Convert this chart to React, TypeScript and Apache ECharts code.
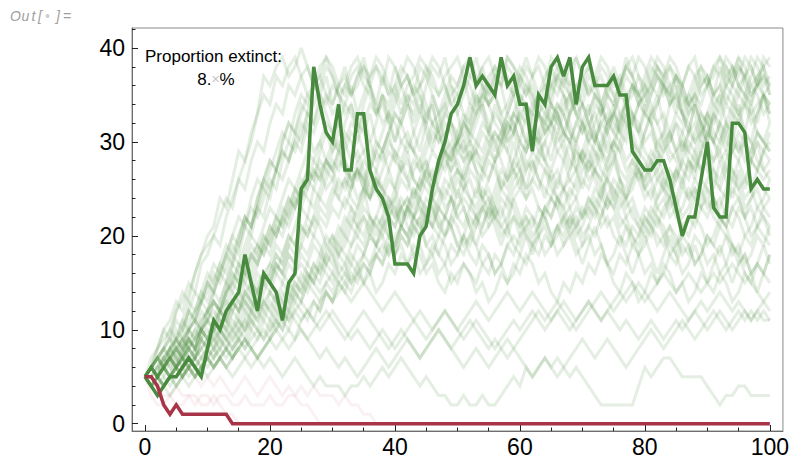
import React, { useEffect, useRef } from "react";
import * as echarts from "echarts";

const FONT = "'Liberation Sans', Arial, Helvetica, sans-serif";

const xMajorTicks = [0, 20, 40, 60, 80, 100];
const xMinorTicks = [5, 10, 15, 25, 30, 35, 45, 50, 55, 65, 70, 75, 85, 90, 95];
const yMajorTicks = [0, 10, 20, 30, 40];
const yMinorTicks = [2, 4, 6, 8, 12, 14, 16, 18, 22, 24, 26, 28, 32, 34, 36, 38, 42];

const proportionExtinctLabel = "8.";

// highlighted surviving run
const highlightedSurvivor = [
  5, 4, 3, 4, 5, 5, 6, 7, 6, 5, 8,
  11, 10, 12, 13, 14, 18, 15, 12, 16, 15,
  14, 11, 15, 16, 25, 26, 38, 34, 31, 30,
  34, 27, 27, 33, 33, 27, 25, 24, 22, 17,
  17, 17, 16, 20, 21, 25, 28, 30, 33, 34,
  36, 39, 36, 37, 36, 35, 39, 36, 37, 34,
  34, 29, 35, 34, 38, 39, 37, 39, 34, 38,
  39, 36, 36, 36, 37, 35, 35, 29, 28, 27,
  27, 28, 28, 26, 23, 20, 22, 22, 26, 30,
  23, 22, 22, 32, 32, 31, 25, 26, 25, 25,
];

// highlighted extinct run
const highlightedExtinct = [
  5, 5, 4, 2, 1, 2, 1, 1, 1, 1, 1,
  1, 1, 1, 0, 0, 0, 0, 0, 0, 0,
  0, 0, 0, 0, 0, 0, 0, 0, 0, 0,
  0, 0, 0, 0, 0, 0, 0, 0, 0, 0,
  0, 0, 0, 0, 0, 0, 0, 0, 0, 0,
  0, 0, 0, 0, 0, 0, 0, 0, 0, 0,
  0, 0, 0, 0, 0, 0, 0, 0, 0, 0,
  0, 0, 0, 0, 0, 0, 0, 0, 0, 0,
  0, 0, 0, 0, 0, 0, 0, 0, 0, 0,
  0, 0, 0, 0, 0, 0, 0, 0, 0, 0,
];

// other extinct runs (faint)
const extinctF1 = [
  5, 3, 2, 2, 3, 2, 2, 3, 3, 2, 2,
  3, 2, 1, 1, 0, 0, 0, 0, 0, 0,
  0, 0, 0, 0, 0, 0, 0, 0, 0, 0,
  0, 0, 0, 0, 0, 0, 0, 0, 0, 0,
  0, 0, 0, 0, 0, 0, 0, 0, 0, 0,
  0, 0, 0, 0, 0, 0, 0, 0, 0, 0,
  0, 0, 0, 0, 0, 0, 0, 0, 0, 0,
  0, 0, 0, 0, 0, 0, 0, 0, 0, 0,
  0, 0, 0, 0, 0, 0, 0, 0, 0, 0,
  0, 0, 0, 0, 0, 0, 0, 0, 0, 0,
];
const extinctF2 = [
  5, 4, 4, 3, 3, 4, 3, 3, 2, 3, 3,
  2, 3, 3, 2, 2, 3, 2, 2, 2, 3,
  2, 2, 3, 3, 2, 2, 1, 0, 0, 0,
  0, 0, 0, 0, 0, 0, 0, 0, 0, 0,
  0, 0, 0, 0, 0, 0, 0, 0, 0, 0,
  0, 0, 0, 0, 0, 0, 0, 0, 0, 0,
  0, 0, 0, 0, 0, 0, 0, 0, 0, 0,
  0, 0, 0, 0, 0, 0, 0, 0, 0, 0,
  0, 0, 0, 0, 0, 0, 0, 0, 0, 0,
  0, 0, 0, 0, 0, 0, 0, 0, 0, 0,
];
const extinctF3 = [
  5, 6, 5, 6, 7, 6, 5, 6, 5, 4, 5,
  4, 5, 4, 3, 4, 5, 4, 3, 4, 5,
  4, 3, 4, 3, 4, 3, 4, 3, 3, 3,
  2, 3, 2, 2, 1, 1, 0, 0, 0, 0,
  0, 0, 0, 0, 0, 0, 0, 0, 0, 0,
  0, 0, 0, 0, 0, 0, 0, 0, 0, 0,
  0, 0, 0, 0, 0, 0, 0, 0, 0, 0,
  0, 0, 0, 0, 0, 0, 0, 0, 0, 0,
  0, 0, 0, 0, 0, 0, 0, 0, 0, 0,
  0, 0, 0, 0, 0, 0, 0, 0, 0, 0,
];

// surviving runs (faint)
const runA1 = [
  5, 6, 8, 10, 9, 12, 14, 13, 16, 18, 20,
  21, 24, 23, 26, 29, 28, 31, 33, 35, 34,
  37, 36, 38, 39, 37, 35, 36, 38, 39, 37,
  35, 34, 36, 33, 35, 37, 38, 36, 39, 38,
  36, 34, 33, 35, 32, 34, 31, 33, 35, 36,
  38, 37, 39, 36, 34, 35, 33, 31, 32, 30,
  33, 31, 29, 30, 28, 31, 29, 27, 30, 32,
  31, 34, 33, 35, 37, 36, 38, 39, 37, 35,
  36, 38, 37, 39, 38, 36, 34, 35, 37, 36,
  38, 39, 37, 38, 36, 35, 37, 39, 38, 36,
];
const runA2 = [
  5, 7, 8, 10, 11, 13, 12, 14, 16, 18, 19,
  20, 22, 24, 23, 26, 28, 30, 33, 37, 36,
  38, 39, 37, 38, 40, 38, 36, 37, 35, 33,
  34, 36, 35, 37, 38, 36, 34, 32, 33, 35,
  37, 39, 38, 36, 37, 35, 33, 34, 32, 30,
  31, 33, 35, 34, 36, 38, 37, 39, 38, 36,
  35, 37, 38, 36, 39, 38, 36, 35, 33, 34,
  32, 30, 33, 35, 34, 36, 38, 37, 35, 36,
  34, 32, 33, 31, 29, 31, 33, 35, 34, 36,
  38, 37, 39, 38, 36, 37, 35, 36, 38, 39,
];
const runA3 = [
  5, 6, 5, 7, 8, 9, 8, 10, 11, 13, 12,
  14, 16, 15, 17, 19, 21, 20, 23, 25, 24,
  27, 29, 28, 31, 30, 33, 32, 34, 31, 29,
  30, 28, 26, 27, 25, 28, 30, 29, 31, 33,
  32, 34, 36, 35, 33, 34, 31, 29, 30, 27,
  25, 26, 24, 27, 29, 28, 30, 32, 31, 34,
  36, 35, 33, 34, 36, 38, 37, 35, 33, 32,
  30, 31, 29, 27, 28, 26, 24, 25, 27, 26,
  28, 30, 29, 31, 33, 32, 34, 33, 31, 32,
  30, 28, 29, 27, 25, 26, 28, 30, 29, 31,
];
const runA4 = [
  5, 6, 5, 6, 7, 6, 5, 6, 7, 8, 7,
  8, 9, 8, 9, 10, 11, 13, 12, 14, 16,
  18, 17, 19, 21, 23, 22, 25, 24, 26, 28,
  27, 29, 31, 30, 32, 34, 33, 35, 34, 36,
  38, 37, 35, 36, 34, 32, 33, 35, 37, 36,
  38, 39, 37, 36, 34, 35, 33, 34, 36, 38,
  37, 35, 33, 31, 32, 34, 33, 35, 36, 34,
  32, 33, 31, 29, 30, 32, 34, 36, 35, 37,
  39, 38, 36, 34, 35, 33, 31, 32, 30, 33,
  35, 34, 36, 38, 37, 39, 38, 36, 37, 35,
];
const runA5 = [
  5, 4, 5, 6, 5, 4, 5, 6, 7, 6, 7,
  6, 7, 8, 7, 8, 9, 8, 7, 8, 9,
  11, 10, 12, 14, 13, 15, 17, 16, 18, 20,
  19, 21, 23, 22, 24, 26, 25, 27, 29, 28,
  30, 29, 31, 33, 32, 30, 31, 29, 27, 28,
  26, 28, 30, 29, 31, 30, 28, 26, 27, 25,
  27, 29, 28, 30, 32, 31, 33, 31, 29, 28,
  26, 27, 25, 23, 24, 26, 25, 27, 26, 24,
  25, 23, 22, 24, 23, 21, 22, 24, 23, 25,
  24, 22, 21, 23, 22, 20, 21, 23, 22, 21,
];
const runA6 = [
  5, 6, 7, 6, 8, 10, 9, 11, 12, 14, 13,
  15, 17, 16, 18, 17, 19, 21, 23, 22, 25,
  27, 26, 28, 30, 29, 32, 31, 33, 35, 34,
  36, 35, 37, 38, 36, 35, 33, 34, 32, 34,
  36, 37, 35, 38, 37, 39, 38, 36, 34, 35,
  33, 32, 34, 36, 35, 37, 36, 38, 37, 35,
  34, 32, 30, 31, 33, 32, 34, 35, 33, 31,
  32, 30, 29, 31, 33, 32, 34, 33, 31, 29,
  28, 26, 27, 25, 24, 26, 28, 27, 29, 31,
  30, 32, 34, 33, 35, 34, 36, 35, 33, 34,
];
const runA7 = [
  5, 6, 5, 4, 5, 6, 7, 6, 7, 8, 9,
  8, 10, 9, 11, 10, 12, 11, 13, 12, 14,
  13, 15, 14, 16, 15, 17, 16, 18, 17, 19,
  18, 20, 19, 21, 20, 22, 21, 20, 22, 21,
  23, 22, 24, 26, 25, 24, 26, 28, 27, 29,
  28, 30, 29, 31, 30, 28, 29, 31, 33, 32,
  30, 31, 33, 32, 34, 33, 31, 30, 32, 34,
  33, 35, 34, 32, 33, 35, 37, 36, 34, 35,
  33, 34, 36, 35, 37, 36, 38, 37, 35, 36,
  34, 35, 37, 36, 38, 37, 35, 36, 37, 36,
];
const runA8 = [
  5, 6, 7, 8, 9, 11, 10, 12, 14, 13, 15,
  17, 16, 18, 20, 22, 21, 24, 26, 25, 27,
  29, 31, 30, 33, 35, 34, 36, 35, 33, 31,
  32, 30, 28, 29, 27, 25, 26, 24, 22, 23,
  21, 23, 22, 24, 26, 25, 27, 29, 28, 30,
  32, 31, 33, 35, 34, 36, 38, 37, 35, 36,
  38, 37, 39, 38, 36, 37, 35, 34, 36, 37,
  35, 36, 34, 32, 33, 31, 30, 32, 34, 33,
  35, 37, 36, 38, 37, 35, 33, 34, 32, 33,
  31, 30, 32, 34, 33, 35, 34, 36, 35, 33,
];
const runA9 = [
  5, 6, 6, 7, 8, 9, 11, 10, 12, 13, 15,
  14, 16, 18, 17, 20, 22, 21, 23, 26, 28,
  27, 30, 32, 31, 33, 35, 34, 36, 38, 37,
  35, 36, 38, 39, 37, 36, 38, 37, 35, 36,
  34, 36, 37, 39, 38, 36, 35, 37, 38, 39,
  37, 36, 34, 35, 37, 38, 36, 39, 38, 37,
  35, 36, 34, 33, 35, 37, 36, 38, 39, 37,
  38, 36, 37, 35, 34, 36, 38, 37, 39, 38,
  36, 35, 37, 38, 36, 34, 35, 37, 38, 36,
  37, 39, 38, 36, 35, 37, 38, 36, 39, 38,
];
const runA10 = [
  5, 5, 6, 7, 6, 8, 7, 9, 10, 9, 11,
  12, 11, 13, 15, 14, 16, 18, 17, 19, 21,
  20, 22, 24, 23, 25, 27, 26, 28, 27, 29,
  31, 30, 32, 31, 29, 30, 28, 29, 31, 33,
  32, 30, 29, 27, 28, 26, 27, 29, 28, 30,
  32, 31, 33, 34, 32, 30, 31, 29, 27, 28,
  30, 29, 31, 33, 32, 34, 33, 31, 30, 28,
  29, 27, 26, 28, 30, 29, 31, 33, 32, 30,
  31, 29, 28, 26, 27, 29, 31, 30, 32, 31,
  33, 32, 30, 29, 31, 30, 28, 27, 29, 30,
];
const runA11 = [
  5, 4, 5, 4, 5, 6, 5, 6, 5, 6, 7,
  6, 7, 8, 7, 9, 8, 10, 9, 11, 10,
  12, 11, 13, 15, 14, 16, 15, 17, 19, 18,
  20, 22, 21, 23, 25, 24, 26, 25, 27, 29,
  28, 30, 29, 31, 33, 32, 30, 31, 29, 30,
  32, 34, 33, 35, 34, 32, 31, 33, 32, 30,
  29, 31, 30, 28, 27, 29, 28, 26, 27, 29,
  31, 30, 32, 33, 31, 30, 28, 29, 27, 26,
  28, 27, 29, 30, 32, 31, 29, 28, 30, 29,
  27, 26, 28, 30, 29, 31, 30, 28, 27, 28,
];
const runA12 = [
  5, 6, 7, 8, 7, 9, 10, 12, 11, 13, 14,
  16, 15, 17, 19, 18, 21, 23, 22, 24, 26,
  25, 28, 30, 29, 31, 33, 32, 35, 34, 36,
  35, 33, 34, 32, 31, 33, 30, 29, 31, 28,
  27, 29, 26, 25, 27, 24, 23, 25, 24, 22,
  23, 21, 22, 24, 23, 25, 27, 26, 28, 27,
  29, 31, 30, 32, 31, 29, 30, 28, 27, 29,
  28, 30, 32, 31, 33, 35, 34, 36, 35, 33,
  32, 30, 31, 29, 28, 30, 29, 31, 33, 32,
  30, 29, 31, 33, 32, 34, 33, 31, 30, 32,
];
const runB1 = [
  5, 6, 5, 6, 7, 6, 8, 9, 8, 10, 9,
  11, 12, 11, 13, 14, 13, 15, 14, 16, 17,
  16, 18, 20, 19, 21, 20, 22, 24, 23, 25,
  24, 26, 25, 27, 26, 24, 25, 23, 22, 24,
  26, 25, 27, 28, 26, 27, 25, 23, 24, 22,
  21, 23, 22, 20, 21, 23, 25, 24, 26, 27,
  25, 26, 28, 27, 25, 24, 22, 23, 21, 22,
  24, 23, 25, 26, 24, 22, 21, 19, 20, 22,
  21, 23, 24, 22, 23, 25, 24, 26, 25, 23,
  24, 22, 21, 23, 24, 22, 20, 21, 23, 22,
];
const runB2 = [
  5, 4, 5, 6, 5, 6, 7, 8, 7, 9, 8,
  10, 9, 11, 10, 12, 13, 12, 14, 16, 15,
  17, 16, 18, 17, 19, 21, 20, 22, 21, 23,
  22, 24, 23, 21, 22, 20, 22, 24, 23, 25,
  27, 26, 28, 27, 29, 31, 30, 32, 31, 29,
  30, 28, 29, 27, 26, 28, 30, 29, 31, 33,
  32, 34, 33, 31, 32, 30, 31, 33, 35, 34,
  36, 35, 33, 34, 32, 31, 33, 32, 34, 36,
  35, 37, 36, 34, 35, 33, 32, 30, 31, 33,
  32, 34, 36, 35, 33, 34, 32, 33, 35, 34,
];
const runB3 = [
  5, 6, 7, 6, 8, 7, 9, 10, 9, 11, 12,
  11, 13, 15, 14, 16, 15, 17, 19, 18, 20,
  22, 21, 23, 25, 24, 26, 28, 27, 25, 26,
  24, 23, 25, 27, 26, 28, 27, 25, 24, 22,
  23, 21, 20, 22, 19, 18, 20, 19, 17, 18,
  20, 19, 21, 23, 22, 24, 26, 25, 27, 26,
  28, 27, 29, 28, 26, 27, 25, 24, 26, 28,
  27, 29, 28, 30, 29, 27, 26, 28, 27, 25,
  26, 24, 25, 27, 26, 28, 30, 29, 27, 28,
  26, 25, 27, 29, 28, 26, 25, 27, 26, 27,
];
const runB4 = [
  5, 6, 5, 6, 5, 7, 6, 8, 7, 9, 10,
  9, 11, 10, 12, 13, 12, 14, 13, 15, 16,
  18, 17, 19, 18, 20, 22, 21, 23, 22, 24,
  26, 25, 27, 26, 28, 27, 25, 24, 26, 25,
  23, 24, 22, 21, 23, 22, 24, 26, 25, 27,
  26, 24, 23, 25, 24, 22, 21, 20, 22, 21,
  23, 22, 20, 21, 19, 20, 22, 21, 23, 22,
  24, 23, 21, 22, 20, 19, 21, 20, 18, 19,
  21, 20, 19, 21, 20, 18, 19, 17, 18, 20,
  19, 18, 20, 19, 17, 18, 16, 17, 19, 17,
];
const runB5 = [
  5, 6, 7, 8, 10, 9, 11, 13, 12, 14, 16,
  15, 17, 19, 18, 20, 22, 21, 24, 26, 25,
  27, 29, 28, 30, 32, 31, 29, 30, 28, 27,
  29, 28, 26, 27, 25, 24, 26, 25, 23, 24,
  22, 23, 21, 22, 24, 23, 21, 20, 22, 21,
  19, 20, 22, 21, 23, 22, 20, 21, 19, 18,
  20, 19, 21, 23, 22, 24, 23, 21, 22, 20,
  21, 23, 22, 24, 26, 25, 23, 24, 22, 21,
  23, 22, 20, 21, 19, 20, 22, 21, 23, 24,
  22, 21, 23, 25, 24, 22, 23, 21, 22, 20,
];
const runB6 = [
  5, 5, 6, 5, 7, 8, 7, 9, 8, 10, 11,
  13, 12, 14, 16, 15, 17, 19, 18, 20, 19,
  21, 23, 22, 24, 26, 25, 27, 26, 28, 30,
  29, 31, 30, 28, 29, 27, 29, 31, 33, 32,
  30, 31, 29, 28, 30, 32, 31, 33, 32, 30,
  28, 29, 27, 26, 28, 27, 25, 26, 28, 30,
  29, 31, 33, 32, 34, 33, 31, 30, 28, 29,
  27, 28, 30, 32, 31, 33, 32, 30, 29, 31,
  33, 32, 30, 28, 29, 27, 26, 28, 27, 29,
  28, 30, 32, 31, 29, 30, 28, 27, 29, 28,
];
const runB7 = [
  5, 6, 5, 7, 6, 8, 9, 8, 10, 12, 11,
  13, 12, 14, 15, 17, 16, 18, 17, 19, 21,
  20, 22, 21, 23, 25, 24, 23, 25, 27, 26,
  28, 27, 26, 24, 25, 27, 29, 28, 30, 29,
  27, 28, 26, 25, 27, 29, 28, 30, 32, 31,
  29, 30, 28, 27, 29, 31, 30, 32, 31, 29,
  27, 28, 26, 25, 24, 26, 25, 27, 29, 28,
  30, 29, 27, 26, 28, 30, 32, 31, 29, 28,
  26, 27, 25, 24, 26, 28, 27, 29, 31, 30,
  28, 29, 27, 26, 28, 30, 29, 31, 30, 29,
];
const runB8 = [
  5, 4, 5, 4, 5, 6, 5, 6, 7, 6, 8,
  7, 8, 9, 8, 10, 9, 11, 10, 12, 11,
  13, 12, 14, 13, 15, 14, 16, 15, 17, 16,
  18, 17, 19, 20, 19, 21, 22, 21, 23, 22,
  24, 23, 25, 24, 22, 23, 21, 22, 24, 26,
  25, 27, 26, 24, 25, 23, 22, 24, 23, 21,
  22, 20, 21, 23, 22, 24, 23, 25, 24, 22,
  23, 25, 24, 26, 25, 23, 24, 22, 21, 23,
  22, 24, 26, 25, 27, 26, 24, 25, 23, 22,
  24, 23, 25, 27, 26, 24, 25, 23, 24, 26,
];
const runC1 = [
  5, 4, 5, 6, 5, 6, 7, 6, 8, 7, 8,
  9, 8, 10, 9, 11, 10, 12, 11, 13, 12,
  14, 13, 15, 14, 16, 15, 17, 16, 18, 17,
  19, 18, 17, 19, 18, 20, 19, 21, 20, 18,
  19, 17, 18, 16, 17, 19, 18, 20, 21, 19,
  20, 18, 17, 19, 18, 16, 17, 15, 16, 18,
  17, 19, 20, 18, 19, 21, 20, 22, 21, 19,
  20, 18, 19, 17, 16, 18, 17, 19, 18, 16,
  17, 15, 16, 18, 17, 19, 18, 20, 19, 17,
  18, 16, 17, 19, 18, 16, 15, 17, 16, 18,
];
const runC2 = [
  5, 6, 5, 4, 5, 6, 5, 7, 6, 7, 8,
  7, 9, 8, 10, 9, 11, 10, 12, 11, 13,
  12, 14, 13, 15, 14, 16, 15, 17, 16, 15,
  17, 16, 18, 17, 15, 16, 14, 15, 17, 16,
  18, 17, 19, 18, 16, 17, 15, 14, 16, 15,
  17, 16, 14, 15, 13, 14, 16, 15, 17, 16,
  18, 17, 15, 16, 14, 13, 15, 14, 16, 15,
  17, 16, 18, 17, 15, 14, 16, 15, 13, 14,
  16, 15, 17, 16, 14, 15, 13, 14, 16, 15,
  14, 16, 15, 13, 14, 16, 15, 14, 13, 14,
];
const runC3 = [
  5, 6, 7, 6, 7, 8, 7, 9, 8, 10, 9,
  11, 10, 12, 14, 13, 15, 14, 16, 15, 17,
  19, 18, 20, 19, 21, 20, 22, 21, 19, 20,
  18, 19, 21, 20, 22, 21, 19, 18, 20, 19,
  21, 23, 22, 24, 23, 21, 20, 22, 21, 19,
  18, 20, 19, 17, 18, 16, 17, 19, 18, 20,
  22, 21, 23, 22, 20, 21, 19, 20, 18, 19,
  21, 20, 22, 24, 23, 21, 22, 20, 19, 21,
  20, 22, 21, 19, 18, 20, 19, 17, 18, 20,
  19, 21, 20, 18, 19, 17, 18, 20, 19, 21,
];
const runC4 = [
  5, 5, 4, 5, 4, 5, 6, 5, 6, 7, 6,
  7, 8, 7, 8, 9, 8, 9, 10, 9, 11,
  10, 12, 11, 13, 12, 11, 13, 12, 14, 13,
  15, 14, 16, 15, 17, 16, 18, 17, 19, 18,
  20, 19, 21, 20, 22, 21, 23, 22, 24, 23,
  25, 24, 22, 23, 21, 22, 24, 23, 25, 26,
  24, 25, 23, 22, 24, 23, 21, 22, 20, 21,
  23, 22, 24, 23, 25, 24, 22, 23, 21, 20,
  22, 21, 23, 24, 22, 23, 25, 24, 26, 25,
  23, 24, 22, 21, 23, 22, 24, 25, 23, 24,
];
const runC5 = [
  5, 6, 5, 6, 7, 6, 7, 8, 7, 9, 8,
  10, 11, 10, 12, 11, 13, 12, 14, 15, 14,
  16, 15, 17, 16, 18, 17, 19, 18, 20, 19,
  21, 20, 22, 21, 23, 22, 20, 22, 24, 23,
  21, 23, 25, 23, 21, 24, 22, 20, 22, 25,
  23, 21, 19, 21, 23, 21, 19, 21, 24, 22,
  20, 18, 20, 22, 20, 18, 19, 21, 19, 17,
  19, 21, 19, 17, 18, 20, 18, 16, 18, 20,
  18, 16, 18, 20, 18, 16, 17, 19, 17, 15,
  17, 19, 17, 15, 17, 18, 16, 14, 16, 18,
];
const runD1 = [
  5, 5, 6, 8, 9, 8, 10, 12, 11, 13, 15,
  14, 16, 18, 20, 19, 22, 21, 24, 26, 28,
  27, 30, 32, 31, 34, 33, 36, 35, 37, 34,
  36, 38, 35, 37, 39, 36, 34, 37, 35, 38,
  36, 37, 35, 33, 36, 38, 37, 39, 36, 35,
  37, 34, 36, 38, 35, 37, 36, 33, 35, 37,
  39, 37, 35, 36, 34, 37, 38, 36, 39, 37,
  35, 37, 34, 36, 38, 36, 39, 37, 35, 34,
  36, 38, 37, 35, 33, 36, 38, 39, 36, 37,
  35, 38, 36, 37, 39, 36, 34, 37, 38, 35,
];
const runD2 = [
  5, 6, 5, 7, 8, 7, 9, 10, 9, 11, 12,
  14, 13, 15, 17, 16, 18, 20, 19, 21, 23,
  22, 24, 26, 25, 27, 29, 28, 30, 32, 31,
  29, 32, 34, 31, 33, 30, 32, 35, 33, 30,
  32, 34, 31, 29, 32, 35, 33, 30, 28, 31,
  33, 30, 32, 34, 31, 29, 31, 33, 35, 32,
  30, 33, 31, 28, 30, 33, 35, 32, 30, 32,
  34, 31, 29, 32, 34, 31, 33, 30, 28, 31,
  33, 35, 32, 30, 32, 29, 31, 34, 32, 30,
  33, 31, 29, 32, 34, 31, 30, 33, 35, 32,
];
const runD3 = [
  5, 6, 5, 6, 7, 6, 8, 9, 8, 10, 11,
  10, 12, 13, 12, 14, 16, 15, 17, 19, 18,
  20, 22, 24, 23, 25, 27, 26, 29, 31, 30,
  32, 34, 33, 31, 34, 36, 33, 35, 32, 30,
  33, 35, 32, 34, 31, 29, 32, 34, 36, 33,
  30, 32, 35, 33, 31, 34, 32, 30, 33, 35,
  33, 31, 33, 36, 34, 32, 30, 33, 35, 32,
  30, 32, 34, 31, 29, 32, 35, 33, 31, 34,
  32, 29, 31, 34, 36, 33, 31, 34, 32, 30,
  33, 35, 32, 30, 33, 31, 34, 32, 35, 33,
];
const runD4 = [
  5, 6, 7, 6, 8, 9, 8, 10, 11, 10, 12,
  13, 12, 14, 16, 15, 17, 16, 18, 20, 19,
  21, 20, 22, 24, 23, 25, 27, 26, 28, 27,
  29, 27, 25, 28, 26, 24, 27, 29, 27, 25,
  28, 26, 24, 26, 28, 25, 27, 29, 26, 24,
  27, 29, 27, 24, 26, 28, 25, 27, 30, 27,
  25, 28, 26, 24, 27, 25, 28, 30, 27, 25,
  28, 26, 24, 27, 29, 26, 24, 26, 28, 25,
  27, 29, 26, 24, 27, 25, 28, 26, 29, 27,
  25, 28, 26, 24, 27, 25, 28, 30, 27, 26,
];
const runE1 = [
  5, 6, 5, 6, 5, 6, 7, 6, 5, 6, 7,
  6, 7, 6, 7, 8, 7, 6, 7, 8, 9,
  8, 9, 10, 9, 11, 12, 11, 13, 14, 13,
  15, 16, 15, 17, 18, 20, 19, 21, 22, 21,
  23, 24, 23, 25, 27, 26, 28, 27, 29, 30,
  29, 31, 30, 32, 31, 33, 32, 30, 31, 33,
  34, 33, 35, 34, 32, 33, 31, 30, 32, 31,
  33, 35, 34, 36, 35, 33, 34, 32, 31, 33,
  32, 34, 36, 35, 37, 36, 34, 35, 33, 32,
  34, 33, 35, 34, 36, 35, 33, 34, 35, 34,
];
const runE2 = [
  5, 4, 5, 6, 7, 6, 7, 9, 8, 10, 9,
  10, 12, 11, 13, 12, 14, 13, 15, 16, 15,
  17, 16, 18, 17, 19, 18, 20, 19, 17, 18,
  16, 17, 15, 16, 18, 17, 19, 20, 18, 19,
  21, 20, 22, 21, 19, 20, 18, 17, 19, 18,
  20, 22, 21, 23, 24, 22, 23, 21, 22, 20,
  21, 19, 18, 20, 19, 21, 22, 20, 21, 23,
  22, 24, 23, 21, 22, 20, 19, 21, 20, 22,
  21, 19, 20, 18, 19, 21, 20, 22, 21, 19,
  20, 22, 21, 19, 18, 20, 19, 21, 20, 19,
];
const runE3 = [
  5, 6, 5, 4, 5, 4, 5, 6, 5, 6, 7,
  6, 7, 8, 7, 8, 9, 8, 9, 10, 9,
  10, 11, 10, 12, 11, 12, 13, 12, 14, 13,
  14, 15, 14, 16, 17, 16, 18, 19, 18, 20,
  21, 20, 22, 23, 22, 24, 25, 24, 26, 27,
  26, 28, 29, 28, 30, 31, 30, 32, 33, 32,
  34, 33, 35, 34, 36, 35, 37, 36, 34, 35,
  37, 36, 38, 37, 35, 36, 34, 35, 37, 36,
  38, 37, 35, 36, 34, 33, 35, 34, 36, 37,
  35, 36, 38, 37, 39, 38, 36, 37, 35, 36,
];
const runE4 = [
  5, 6, 7, 8, 7, 9, 8, 10, 11, 10, 12,
  13, 12, 14, 15, 17, 16, 18, 19, 18, 20,
  22, 21, 23, 25, 24, 26, 25, 27, 28, 27,
  25, 26, 24, 23, 25, 22, 21, 22, 20, 19,
  21, 20, 18, 19, 17, 18, 16, 17, 15, 16,
  17, 16, 15, 17, 16, 18, 17, 19, 20, 19,
  21, 22, 21, 23, 24, 23, 25, 26, 25, 27,
  28, 27, 29, 28, 30, 29, 27, 28, 26, 27,
  29, 28, 30, 31, 29, 30, 28, 27, 29, 31,
  30, 32, 31, 29, 30, 28, 29, 31, 30, 29,
];
const runE5 = [
  5, 6, 8, 9, 10, 12, 13, 15, 14, 17, 18,
  20, 19, 22, 24, 26, 25, 28, 30, 29, 32,
  34, 33, 36, 35, 37, 38, 36, 37, 39, 38,
  36, 37, 35, 36, 38, 37, 39, 38, 36, 35,
  33, 35, 34, 36, 38, 37, 35, 36, 34, 33,
  35, 37, 36, 38, 39, 37, 38, 36, 35, 37,
  36, 34, 35, 37, 38, 36, 35, 33, 34, 36,
  38, 37, 39, 38, 36, 37, 35, 36, 34, 35,
  37, 39, 38, 36, 37, 35, 34, 36, 38, 37,
  35, 36, 34, 36, 38, 37, 39, 38, 36, 37,
];
const runE6 = [
  5, 6, 5, 6, 5, 7, 6, 8, 7, 8, 9,
  8, 10, 9, 10, 11, 10, 12, 11, 13, 12,
  11, 13, 12, 14, 13, 15, 14, 13, 15, 14,
  16, 15, 17, 16, 15, 17, 18, 17, 19, 18,
  20, 19, 21, 20, 22, 21, 23, 22, 21, 23,
  24, 23, 25, 24, 22, 23, 21, 22, 24, 25,
  24, 26, 25, 27, 26, 24, 25, 23, 24, 26,
  25, 27, 26, 24, 23, 25, 24, 26, 27, 25,
  24, 26, 25, 23, 24, 22, 23, 25, 24, 26,
  27, 25, 24, 26, 25, 23, 24, 26, 25, 24,
];

// low stragglers
const runL1 = [
  5, 4, 5, 4, 3, 4, 5, 4, 5, 6, 5,
  6, 7, 6, 5, 6, 7, 8, 7, 6, 7,
  6, 5, 6, 7, 6, 5, 4, 5, 4, 4,
  4, 3, 4, 4, 5, 4, 5, 6, 5, 6,
  7, 6, 5, 4, 5, 4, 3, 3, 2, 2,
  3, 2, 2, 3, 2, 2, 3, 4, 5, 4,
  6, 5, 6, 7, 6, 7, 6, 5, 6, 5,
  4, 3, 2, 2, 2, 2, 2, 2, 4, 6,
  5, 6, 7, 7, 6, 5, 5, 5, 5, 4,
  3, 2, 3, 3, 4, 4, 3, 3, 3, 3,
];
const runL2 = [
  5, 6, 5, 6, 7, 6, 8, 7, 8, 9, 8,
  9, 10, 9, 8, 9, 10, 11, 10, 9, 10,
  11, 10, 12, 11, 10, 9, 10, 11, 12, 11,
  10, 9, 10, 11, 12, 11, 10, 9, 8, 9,
  10, 9, 8, 7, 8, 9, 10, 9, 8, 7,
  6, 7, 8, 7, 6, 7, 8, 9, 8, 7,
  6, 5, 6, 7, 6, 5, 6, 7, 8, 9,
  8, 7, 8, 9, 8, 7, 6, 7, 8, 9,
  10, 9, 8, 9, 10, 11, 10, 9, 10, 11,
  12, 11, 10, 11, 12, 11, 12, 11, 12, 11,
];
const runL3 = [
  5, 6, 7, 6, 7, 8, 9, 8, 9, 10, 9,
  11, 10, 12, 13, 12, 14, 13, 12, 13, 14,
  13, 12, 11, 12, 13, 12, 11, 10, 11, 12,
  11, 10, 9, 10, 9, 8, 9, 10, 9, 8,
  9, 10, 11, 10, 9, 10, 11, 12, 11, 10,
  11, 12, 13, 12, 11, 12, 13, 14, 13, 12,
  13, 14, 13, 12, 11, 12, 11, 10, 11, 12,
  13, 12, 11, 12, 13, 14, 13, 14, 15, 14,
  13, 12, 13, 14, 13, 12, 11, 12, 13, 12,
  13, 14, 13, 12, 13, 12, 11, 12, 13, 12,
];
const runL4 = [
  5, 4, 5, 6, 5, 6, 7, 6, 5, 6, 7,
  8, 7, 6, 7, 8, 9, 8, 7, 8, 9,
  10, 9, 8, 9, 10, 9, 8, 7, 8, 7,
  6, 7, 6, 5, 6, 7, 8, 7, 6, 7,
  8, 9, 8, 7, 8, 9, 10, 9, 8, 9,
  10, 11, 10, 9, 8, 9, 8, 7, 8, 9,
  10, 11, 12, 11, 12, 13, 12, 11, 10, 11,
  12, 13, 14, 13, 12, 13, 14, 15, 14, 13,
  14, 15, 16, 15, 14, 15, 16, 15, 14, 15,
  16, 15, 16, 17, 16, 15, 16, 17, 16, 15,
];
const runL5 = [
  5, 6, 5, 6, 7, 8, 7, 8, 9, 10, 11,
  10, 12, 11, 13, 12, 14, 15, 14, 16, 15,
  17, 16, 15, 16, 17, 16, 15, 14, 15, 16,
  15, 14, 13, 14, 15, 14, 13, 12, 13, 14,
  13, 12, 11, 12, 11, 10, 11, 12, 11, 10,
  9, 10, 11, 10, 9, 8, 9, 10, 11, 10,
  11, 12, 11, 10, 11, 12, 13, 12, 11, 12,
  13, 12, 11, 12, 11, 10, 11, 10, 9, 10,
  11, 10, 9, 10, 11, 10, 11, 12, 11, 10,
  11, 12, 11, 10, 11, 12, 11, 12, 11, 11,
];

const faintSurvivors = [
  runA1, runA2, runA3, runA4, runA5, runA6, runA7, runA8, runA9, runA10, runA11, runA12,
  runB1, runB2, runB3, runB4, runB5, runB6, runB7, runB8,
  runC1, runC2, runC3, runC4, runC5,
  runD1, runD2, runD3, runD4,
  runE1, runE2, runE3, runE4, runE5, runE6,
  runL1, runL2, runL3, runL4, runL5,
];
const faintExtinct = [extinctF1, extinctF2, extinctF3];

const X_MIN = -2.08;
const X_MAX = 102.1;
const Y_MIN = -0.78;
const Y_MAX = 42.13;

const GREEN = "rgb(72,138,62)";
const RED = "rgb(168,52,72)";
const GREEN_FAINT = "rgba(72,138,62,0.15)";
const RED_FAINT = "rgba(190,60,90,0.07)";

export default function App() {
  const ref = useRef<HTMLDivElement>(null);

  useEffect(() => {
    if (!ref.current) return;
    const chart = echarts.init(ref.current, null, { renderer: "svg" });

    const toPoints = (arr: number[]) => arr.slice(0, 101).map((v, i) => [i, v]);
    const line = (arr: number[], color: string, width: number, z: number) => ({
      type: "line",
      data: toPoints(arr),
      showSymbol: false,
      symbol: "none",
      silent: true,
      z,
      xAxisIndex: 0,
      yAxisIndex: 0,
      lineStyle: { color, width, join: "miter", miterLimit: 3, cap: "butt" },
      emphasis: { disabled: true },
    });

    const series: any[] = [];
    faintExtinct.forEach((arr) => series.push(line(arr, RED_FAINT, 3, 2)));
    faintSurvivors.forEach((arr) => series.push(line(arr, GREEN_FAINT, 3, 2)));
    series.push(line(highlightedSurvivor, GREEN, 3.5, 5));
    series.push(line(highlightedExtinct, RED, 3.5, 6));

    const axisCommon = {
      type: "value",
      splitLine: { show: false },
    };

    const option: any = {
      animation: false,
      grid: {
        left: 132,
        top: 28,
        width: 653,
        height: 403,
        show: true,
        borderColor: "#8a8a8a",
        borderWidth: 1,
        backgroundColor: "transparent",
      },
      xAxis: [
        {
          ...axisCommon,
          min: X_MIN,
          max: X_MAX,
          position: "bottom",
          axisLine: { show: true, onZero: false, lineStyle: { color: "#6e6e6e", width: 1 } },
          axisTick: { show: true, inside: true, length: 6, customValues: xMajorTicks, lineStyle: { color: "#222", width: 1 } },
          axisLabel: { show: true, customValues: xMajorTicks, fontSize: 23, fontFamily: FONT, color: "#000", margin: 4 },
        },
        {
          ...axisCommon,
          min: X_MIN,
          max: X_MAX,
          position: "bottom",
          axisLine: { show: false, onZero: false },
          axisTick: { show: true, inside: true, length: 3.5, customValues: xMinorTicks, lineStyle: { color: "#222", width: 1 } },
          axisLabel: { show: false },
        },
      ],
      yAxis: [
        {
          ...axisCommon,
          min: Y_MIN,
          max: Y_MAX,
          position: "left",
          axisLine: { show: true, onZero: false, lineStyle: { color: "#6e6e6e", width: 1 } },
          axisTick: { show: true, inside: true, length: 6, customValues: yMajorTicks, lineStyle: { color: "#222", width: 1 } },
          axisLabel: { show: true, customValues: yMajorTicks, fontSize: 23, fontFamily: FONT, color: "#000", margin: 7 },
        },
        {
          ...axisCommon,
          min: Y_MIN,
          max: Y_MAX,
          position: "left",
          axisLine: { show: false, onZero: false },
          axisTick: { show: true, inside: true, length: 3.5, customValues: yMinorTicks, lineStyle: { color: "#222", width: 1 } },
          axisLabel: { show: false },
        },
      ],
      series,
      graphic: [
        {
          type: "text",
          x: 213.5,
          y: 56.5,
          z: 10,
          style: {
            text: "Proportion extinct:",
            font: `17px ${FONT}`,
            fill: "#000",
            align: "center",
            textAlign: "center",
            verticalAlign: "middle",
            textVerticalAlign: "middle",
          },
        },
        {
          type: "text",
          x: 216,
          y: 79,
          z: 10,
          style: {
            text: `{a|${proportionExtinctLabel}}{b|×}{a|%}`,
            font: `17px ${FONT}`,
            align: "center",
            textAlign: "center",
            verticalAlign: "middle",
            textVerticalAlign: "middle",
            rich: {
              a: { fontSize: 17, fontFamily: FONT, fill: "#000" },
              b: { fontSize: 14, fontFamily: FONT, fill: "#c4c4c4" },
            },
          },
        },
        ...[
          { t: "O", x: 10 },
          { t: "u", x: 21.5 },
          { t: "t", x: 31.5 },
          { t: "[", x: 38 },
          { t: "]", x: 56 },
          { t: "=", x: 63 },
        ].map((c) => ({
          type: "text",
          x: c.x,
          y: 15.8,
          style: {
            text: c.t,
            font: `italic 14px ${FONT}`,
            fill: "#a0a0a0",
            align: "left",
            textAlign: "left",
            verticalAlign: "middle",
            textVerticalAlign: "middle",
          },
        })),
        {
          type: "text",
          x: 45,
          y: 16,
          style: {
            text: "•",
            font: `14px ${FONT}`,
            fill: "#cfcfcf",
            align: "left",
            textAlign: "left",
            verticalAlign: "middle",
            textVerticalAlign: "middle",
          },
        },
      ],
    };

    chart.setOption(option);
    return () => chart.dispose();
  }, []);

  return (
    <div
      ref={ref}
      style={{ position: "absolute", left: 0, top: 0, width: 792, height: 462 }}
    />
  );
}
